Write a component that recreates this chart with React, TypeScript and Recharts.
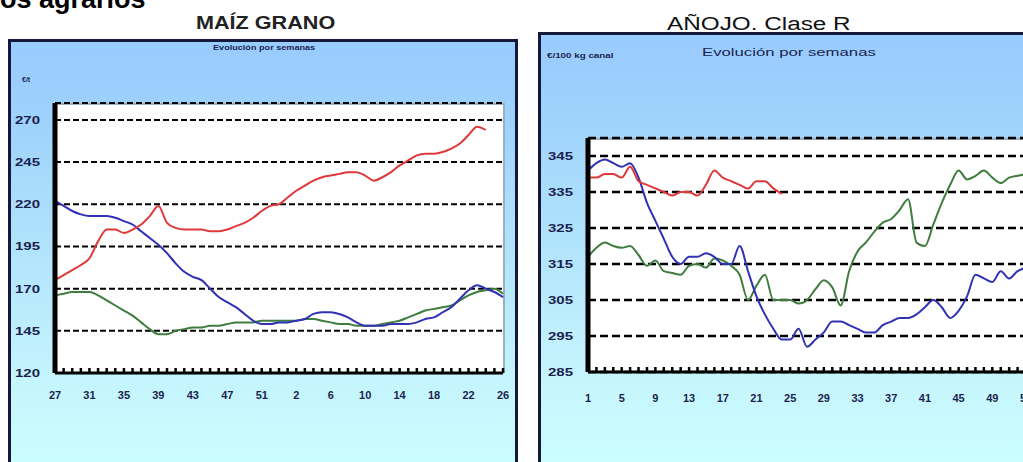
import React from 'react'
import { LineChart, Line, XAxis, YAxis, CartesianGrid } from 'recharts'

const FONT = '"Liberation Sans", Arial, sans-serif'
const NAVY = '#1b1f4f'
const RED = '#e0383a'
const BLUE = '#3131b5'
const GREEN = '#3f7d3f'

// MAÍZ GRANO, €/t, semanas 27 a 26
const maizWeeks = [
  27, 28, 29, 30, 31, 32, 33, 34, 35, 36, 37, 38, 39, 40, 41, 42, 43, 44, 45, 46, 47, 48, 49, 50, 51, 52, 53,
  1, 2, 3, 4, 5, 6, 7, 8, 9, 10, 11, 12, 13, 14, 15, 16, 17, 18, 19, 20, 21, 22, 23, 24, 25, 26,
]
const maizRed = [
  175, 178, 181, 184, 188, 198, 205, 205, 203, 205, 208, 213, 219, 209, 206, 205, 205, 205, 204, 204, 205,
  207, 209, 212, 216, 219, 220, 224, 228, 231, 234, 236, 237, 238, 239, 239, 237, 234, 236, 239, 243, 246,
  249, 250, 250, 251, 253, 256, 261, 266, 264, null, null,
]
const maizBlue = [
  222, 219, 216, 214, 213, 213, 213, 212, 210, 208, 204, 200, 196, 191, 185, 180, 177, 175, 170, 165, 162,
  159, 155, 151, 149, 149, 150, 150, 151, 152, 155, 156, 156, 155, 153, 150, 148, 148, 148, 149, 149, 149,
  150, 152, 153, 156, 159, 164, 169, 172, 170, 168, 165,
]
const maizGreen = [
  166, 167, 168, 168, 168, 166, 163, 160, 157, 154, 150, 146, 143, 143, 145, 146, 147, 147, 148, 148, 149,
  150, 150, 150, 151, 151, 151, 151, 151, 152, 152, 151, 150, 149, 149, 148, 148, 148, 149, 150, 151, 153,
  155, 157, 158, 159, 160, 163, 166, 168, 169, 170, 167,
]
const maizTicks = [120, 145, 170, 195, 220, 245, 270]

// AÑOJO clase R, semanas 1 a 53
const anojoWeeks = [
  1, 2, 3, 4, 5, 6, 7, 8, 9, 10, 11, 12, 13, 14, 15, 16, 17, 18, 19, 20, 21, 22, 23, 24, 25, 26, 27,
  28, 29, 30, 31, 32, 33, 34, 35, 36, 37, 38, 39, 40, 41, 42, 43, 44, 45, 46, 47, 48, 49, 50, 51, 52, 53,
]
const anojoRed = [
  339, 339, 340, 340, 339, 342, 338, 337, 336, 335, 334, 335, 335, 334, 337, 341, 339, 338, 337, 336, 338,
  338, 336, 334.5, null, null, null, null, null, null, null, null, null, null, null, null, null, null, null,
  null, null, null, null, null, null, null, null, null, null, null, null, null, null,
]
const anojoBlue = [
  341, 343, 344, 343, 342, 343, 339, 332, 327, 322, 317, 315, 317, 317, 318, 317, 315, 315, 320, 313, 306,
  301, 297, 294, 294, 297, 292, 294, 296, 299, 299, 298, 297, 296, 296, 298, 299, 300, 300, 301, 303, 305,
  303, 300, 302, 306, 312, 311, 310, 313, 311, 313, 314,
]
const anojoGreen = [
  317, 319.5, 321, 320, 319.5, 320, 317.5, 314.5, 316, 313, 312.5, 312, 314.5, 315, 314, 316.5, 316, 314.5,
  312, 305, 309, 312, 305, 305, 305, 304, 305, 308, 310.5, 308.5, 303.5, 313, 318.5, 321, 324, 326.5, 327.5,
  330, 333, 321, 320, 326, 332, 337, 341, 338.5, 339.5, 341, 339, 337.5, 339, 339.5, 340,
]
const anojoTicks = [285, 295, 305, 315, 325, 335, 345]

const maizData = maizWeeks.map((week, i) => ({
  week,
  red: maizRed[i],
  blue: maizBlue[i],
  green: maizGreen[i],
}))

const anojoData = anojoWeeks.map((week, i) => ({
  week,
  red: anojoRed[i],
  blue: anojoBlue[i],
  green: anojoGreen[i],
}))

function WeekTick(props: any) {
  const { x, y, payload, index, labelDy } = props
  return (
    <g>
      <line x1={x} x2={x} y1={y - 5} y2={y} stroke="#000" strokeWidth={2.5} />
      {index % 4 === 0 && (
        <text
          x={x}
          y={y + labelDy}
          textAnchor="middle"
          fontSize={11}
          fontWeight="bold"
          fill={NAVY}
          fontFamily={FONT}
        >
          {payload.value}
        </text>
      )}
    </g>
  )
}

function PriceTick(props: any) {
  const { x, y, payload } = props
  return (
    <text
      transform={`translate(${x},${y + 4}) scale(1.5,1)`}
      textAnchor="end"
      fontSize={10}
      fontWeight="bold"
      fill={NAVY}
      fontFamily={FONT}
    >
      {payload.value}
    </text>
  )
}

function Label({ text, left, top, size, scale = 1, bold = false, color = '#000' }: any) {
  return (
    <div
      style={{
        position: 'absolute',
        left,
        top,
        fontSize: size,
        lineHeight: 1,
        fontFamily: FONT,
        fontWeight: bold ? 'bold' : 'normal',
        color,
        whiteSpace: 'nowrap',
        transform: `scaleX(${scale})`,
        transformOrigin: 'left top',
      }}
    >
      {text}
    </div>
  )
}

const frame = {
  position: 'absolute' as const,
  border: '3px solid #14183a',
  boxSizing: 'border-box' as const,
  background: 'linear-gradient(to bottom, #99ccff 0%, #9dd0fb 15%, #c6f6fd 80%, #ccffff 100%)',
}

const plotBox = {
  position: 'absolute' as const,
  background: '#fff',
  borderTop: '2px solid #9bb0bf',
  borderRight: '2px solid #9bb0bf',
  boxSizing: 'border-box' as const,
}

export default function App() {
  return (
    <div
      style={{
        position: 'fixed',
        left: 0,
        top: 0,
        width: 1023,
        height: 462,
        overflow: 'hidden',
        background: '#fff',
      }}
    >
      <Label text="Precios agrarios" left={-66} top={-14} size={27} bold />

      {/* MAÍZ GRANO */}
      <Label text="MAÍZ GRANO" left={196} top={14} size={18} scale={1.2} bold color="#222" />
      <div style={{ ...frame, left: 8, top: 39, width: 510, height: 440 }} />
      <Label text="Evolución por semanas" left={213} top={44} size={7} scale={1.3} bold color={NAVY} />
      <Label text="€/t" left={22} top={76} size={7} bold color={NAVY} />
      <div style={{ ...plotBox, left: 55, top: 103, width: 450, height: 270 }} />
      <div style={{ position: 'absolute', left: 8, top: 39 }}>
        <LineChart width={510} height={430} data={maizData} margin={{ top: 64, right: 15, left: 0, bottom: 66 }}>
          <CartesianGrid vertical={false} stroke="#000" strokeWidth={2} strokeDasharray="6 3" />
          <XAxis
            dataKey="week"
            interval={0}
            height={30}
            tickSize={0}
            tickMargin={0}
            tickLine={false}
            axisLine={{ stroke: '#000', strokeWidth: 3 }}
            tick={(p: any) => <WeekTick {...p} labelDy={26} />}
          />
          <YAxis
            width={47}
            domain={[120, 280]}
            ticks={maizTicks}
            tickSize={0}
            tickMargin={15}
            tickLine={false}
            axisLine={{ stroke: '#000', strokeWidth: 5 }}
            tick={<PriceTick />}
          />
          <Line type="monotone" dataKey="green" stroke={GREEN} strokeWidth={2} dot={false} isAnimationActive={false} />
          <Line type="monotone" dataKey="blue" stroke={BLUE} strokeWidth={2} dot={false} isAnimationActive={false} />
          <Line type="monotone" dataKey="red" stroke={RED} strokeWidth={2} dot={false} isAnimationActive={false} />
        </LineChart>
      </div>

      {/* AÑOJO. Clase R */}
      <Label text="AÑOJO. Clase R" left={667} top={15} size={18} scale={1.35} color="#111" />
      <div style={{ ...frame, left: 538, top: 32, width: 520, height: 440 }} />
      <Label text="Evolución por semanas" left={702} top={47} size={11} scale={1.52} color={NAVY} />
      <Label text="€/100 kg canal" left={547} top={52} size={7} scale={1.4} bold color={NAVY} />
      <div style={{ ...plotBox, left: 588, top: 138, width: 440, height: 234 }} />
      <div style={{ position: 'absolute', left: 540, top: 32 }}>
        <LineChart width={500} height={440} data={anojoData} margin={{ top: 106, right: 14, left: 0, bottom: 70 }}>
          <CartesianGrid vertical={false} stroke="#000" strokeWidth={2.5} strokeDasharray="8 4" />
          <XAxis
            dataKey="week"
            interval={0}
            height={30}
            tickSize={0}
            tickMargin={0}
            tickLine={false}
            axisLine={{ stroke: '#000', strokeWidth: 3 }}
            tick={(p: any) => <WeekTick {...p} labelDy={30} />}
          />
          <YAxis
            width={48}
            domain={[285, 350]}
            ticks={anojoTicks}
            tickSize={0}
            tickMargin={15}
            tickLine={false}
            axisLine={{ stroke: '#000', strokeWidth: 5 }}
            tick={<PriceTick />}
          />
          <Line type="monotone" dataKey="green" stroke={GREEN} strokeWidth={2} dot={false} isAnimationActive={false} />
          <Line type="monotone" dataKey="blue" stroke={BLUE} strokeWidth={2} dot={false} isAnimationActive={false} />
          <Line type="monotone" dataKey="red" stroke={RED} strokeWidth={2} dot={false} isAnimationActive={false} />
        </LineChart>
      </div>
    </div>
  )
}
